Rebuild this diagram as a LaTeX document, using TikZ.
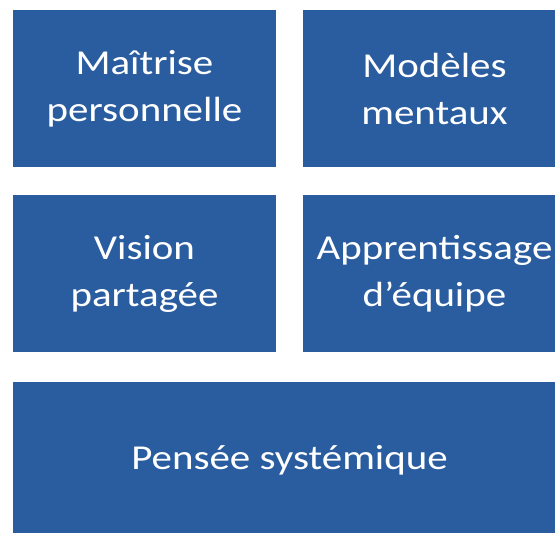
\documentclass[tikz,border=0pt]{standalone}
\usepackage{fontspec}
\setmainfont{Carlito}
\usepackage{tikz}
\usetikzlibrary{positioning}
\definecolor{boxblue}{RGB}{42,93,160}
\newcommand{\widetext}[1]{\scalebox{1.17}[1]{#1}}

\begin{document}
\begin{tikzpicture}[x=1pt,y=-1pt,
    block/.style={fill=boxblue,text=white,inner sep=0pt,align=center,
      minimum width=263pt,minimum height=157pt,
      font=\fontsize{35}{47}\selectfont}]

    \useasboundingbox (0,0) rectangle (555,533);
    \clip (0,0) rectangle (555,533);

    \node (maitrise) [block] at (144.5,88.5)  {\widetext{Maîtrise}\\\widetext{personnelle}};
    \node (modeles)  [block] at (434.5,88.5)  {\widetext{Modèles}\\\widetext{mentaux}};
    \node (vision)   [block] at (144.5,273.5) {\widetext{Vision}\\\widetext{partagée}};
    \node (equipe)   [block] at (434.5,273.5) {\widetext{Apprentissage}\\\widetext{d’équipe}};
    \node (pensee)   [block,minimum width=553pt] at (289.5,460.5) {\widetext{Pensée systémique}};

  \end{tikzpicture}
\end{document}
